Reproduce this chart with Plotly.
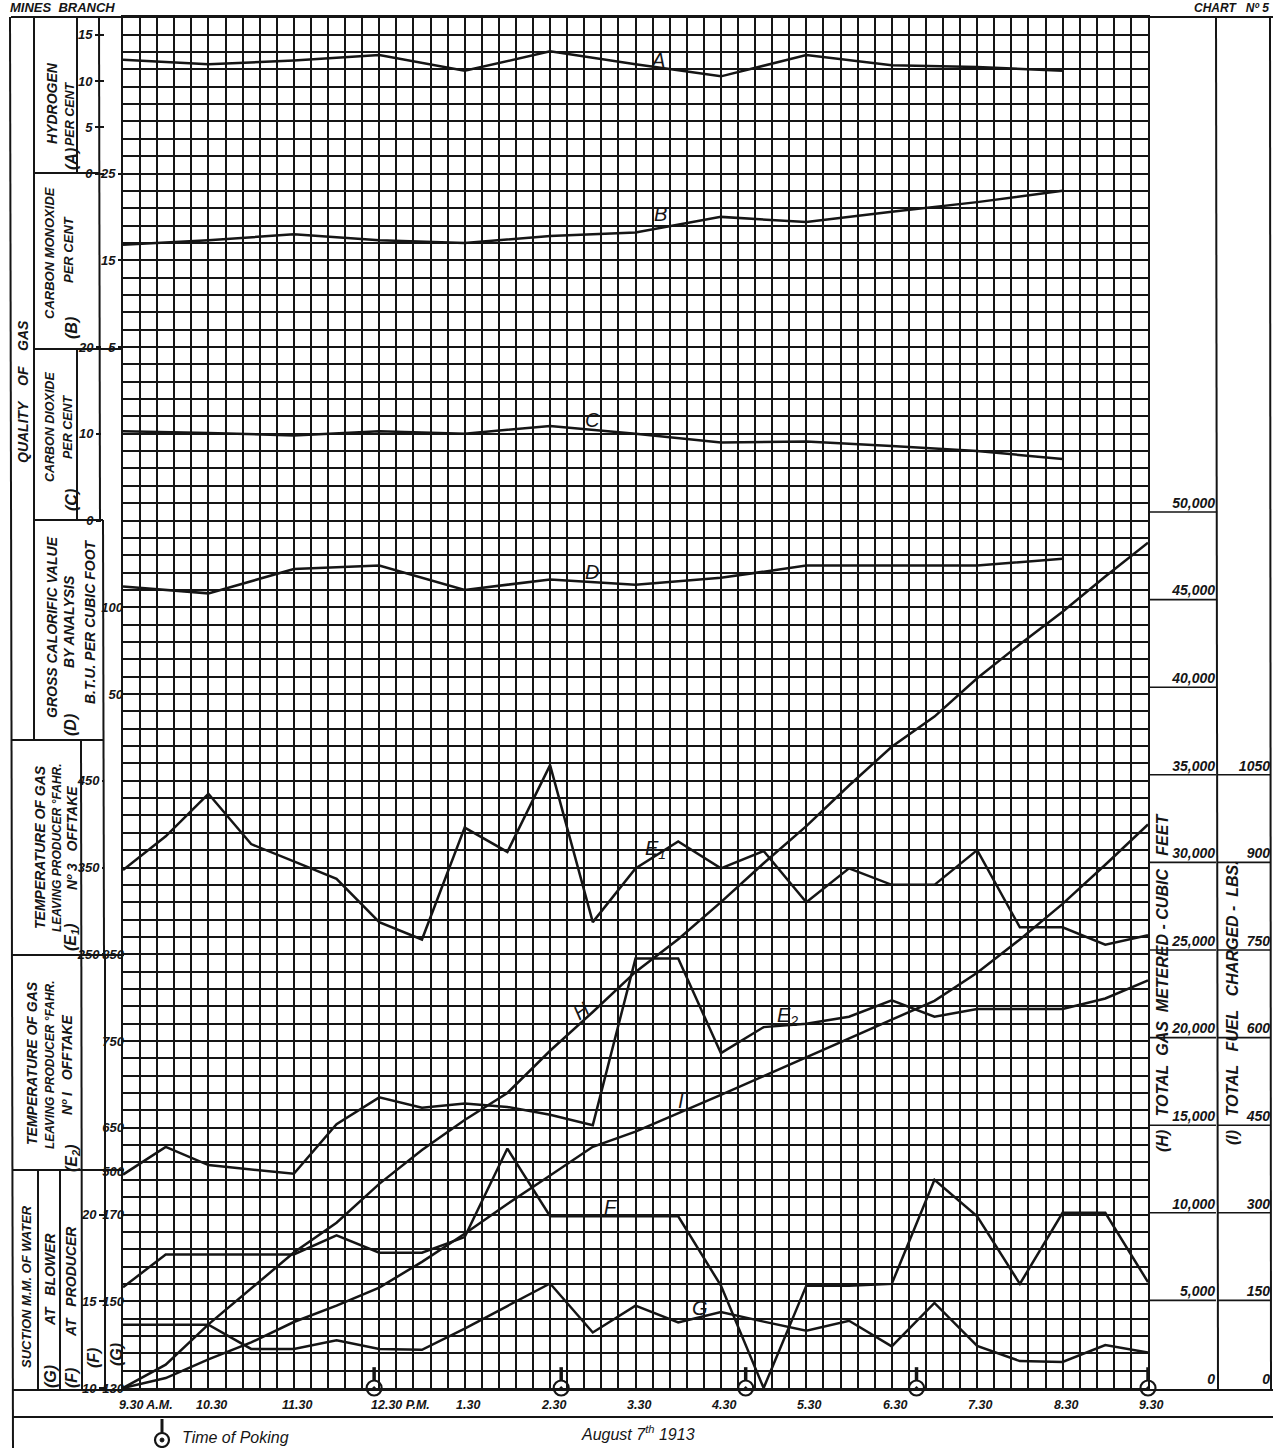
import plotly.graph_objects as go

# ------------------------------------------------------------------ data
HOURLY_TIMES = [9.5, 10.5, 11.5, 12.5, 13.5, 14.5, 15.5, 16.5, 17.5, 18.5, 19.5, 20.5]
HALF_HOURLY_TIMES = [9.5, 10.0, 10.5, 11.0, 11.5, 12.0, 12.5, 13.0, 13.5, 14.0, 14.5, 15.0,
                     15.5, 16.0, 16.5, 17.0, 17.5, 18.0, 18.5, 19.0, 19.5, 20.0, 20.5, 21.0, 21.5]

hydrogen_A = [12.3, 11.8, 12.2, 12.8, 11.1, 13.2, 11.8, 10.5, 12.8, 11.7, 11.5, 11.1]
carbon_monoxide_B = [16.8, 17.3, 18.0, 17.3, 17.0, 17.8, 18.2, 20.0, 19.4, 20.6, 21.7, 23.0]
carbon_dioxide_C = [10.3, 10.1, 9.8, 10.3, 10.0, 10.9, 10.0, 9.0, 9.1, 8.6, 8.0, 7.1]
calorific_value_D = [112, 108, 122, 124, 110, 116, 113, 117, 124, 124, 124, 128]

temp_no3_offtake_E1 = [347, 386, 435, 377, 357, 337, 287, 267, 396, 368, 468, 287, 349,
                       380, 349, 369, 310, 349, 330, 330, 370, 281, 281, 261, 272]
temp_no1_offtake_E2 = [596, 628, 607, 602, 597, 654, 685, 673, 678, 674, 665, 653, 845,
                       845, 736, 766, 770, 778, 797, 778, 787, 787, 787, 799, 820]
suction_producer_F = [15.8, 17.7, 17.7, 17.7, 17.7, 18.8, 17.8, 17.8, 18.7, 23.8, 19.9, 19.9, 19.9,
                      19.9, 15.9, 10.0, 15.9, 15.9, 16.0, 22.0, 19.9, 16.0, 20.1, 20.1, 16.1]
suction_blower_G = [144.6, 144.6, 144.6, 139.0, 139.0, 141.0, 139.0, 138.8, 143.7, 148.9, 154.1, 142.8,
                    149.0, 145.1, 147.5, 145.3, 143.2, 145.5, 139.6, 149.6, 139.7, 136.2, 136.0, 139.9, 138.2]
total_gas_H = [0, 1330, 3630, 5670, 7730, 9430, 11650, 13580, 15300, 16840, 19250, 21460, 23750,
               25610, 27730, 29950, 32070, 34390, 36600, 38320, 40510, 42450, 44310, 46320, 48250]
total_fuel_I = [0, 17, 49, 78, 113, 141, 172, 216, 264, 315, 364, 413, 439,
                470, 502, 534, 566, 598, 631, 663, 711, 768, 829, 896, 965]

POKING_TIMES = [12.44, 14.63, 16.79, 18.79, 21.5]

TIME_TICKS = [9.5, 10.5, 11.5, 12.5, 13.5, 14.5, 15.5, 16.5, 17.5, 18.5, 19.5, 20.5, 21.5]
TIME_LABELS = ["9.30 A.M.", "10.30", "11.30", "12.30 P.M.", "1.30", "2.30", "3.30",
               "4.30", "5.30", "6.30", "7.30", "8.30", "9.30"]

A_TICKS = [0, 5, 10, 15]
B_TICKS = [5, 15, 25]
C_TICKS = [0, 10, 20]
D_TICKS = [50, 100]
E1_TICKS = [250, 350, 450]
E2_TICKS = [600, 650, 750, 850]
E2_TICKTEXT = ["500", "650", "750", "850"]
F_TICKS = [10, 15, 20]
G_TICKS = [130, 150, 170]
H_TICKS = [0, 5000, 10000, 15000, 20000, 25000, 30000, 35000, 40000, 45000, 50000]
H_TICKTEXT = ["0", "5,000", "10,000", "15,000", "20,000", "25,000", "30,000",
              "35,000", "40,000", "45,000", "50,000"]
I_TICKS = [0, 150, 300, 450, 600, 750, 900, 1050]

# ------------------------------------------------------------------ geometry / style
W, HP = 1273, 1448
INK = "#151515"
FONT = "Liberation Sans, Arial, sans-serif"
ROWS = 79
GRID_L, GRID_R, GRID_T, GRID_B = 123, 1148, 17.35, 1388
NB = "\u00a0"


def px(x):
    return x / W


def py(y):
    return 1 - y / HP


def ifont(size, bold=True):
    return dict(family=FONT, size=size, color=INK, style="italic",
                weight="bold" if bold else "normal")


fig = go.Figure()


def scale_axis(v0, per_row, pos_px, tickvals, ticktext=None, ticklen=0, size=13, raise_labels=False):
    texts = ticktext if ticktext is not None else [str(v) for v in tickvals]
    if raise_labels:  # label sits above its leader line
        texts = [t + "<br>" + NB for t in texts]
    return dict(overlaying="y", anchor="free", position=pos_px / W, side="left",
                range=[v0, v0 + per_row * ROWS], showgrid=False, zeroline=False,
                showline=False, tickmode="array", tickvals=tickvals, ticktext=texts,
                ticks="outside" if ticklen > 0 else "", ticklen=ticklen, tickwidth=1.6,
                tickcolor=INK, tickfont=ifont(size),
                automargin=False, fixedrange=True)


H_PER_ROW = 50000 / 50.49
layout_axes = dict(
    yaxis2=scale_axis(-131.25, 1.875, 104, A_TICKS, ticklen=9),
    yaxis3=scale_axis(-115, 2, 123, B_TICKS, ticklen=5),
    yaxis4=scale_axis(-100, 2, 101, C_TICKS, ticklen=5),
    yaxis5=scale_axis(-350, 10, 123, D_TICKS, ticklen=0),
    yaxis6=scale_axis(-250, 20, 104, E1_TICKS, ticklen=2),
    yaxis7=scale_axis(350, 20, 124, E2_TICKS, E2_TICKTEXT, ticklen=0),
    yaxis8=scale_axis(10, 1, 104, F_TICKS, ticklen=5),
    yaxis9=scale_axis(130, 4, 124, G_TICKS, ticklen=0),
    yaxis10=scale_axis(0, H_PER_ROW, 1215, H_TICKS, H_TICKTEXT, ticklen=0, size=14, raise_labels=True),
    yaxis11=scale_axis(0, H_PER_ROW * 0.03, 1270, I_TICKS, ticklen=0, size=14, raise_labels=True),
)

series = [
    (HOURLY_TIMES, hydrogen_A, "y2"),
    (HOURLY_TIMES, carbon_monoxide_B, "y3"),
    (HOURLY_TIMES, carbon_dioxide_C, "y4"),
    (HOURLY_TIMES, calorific_value_D, "y5"),
    (HALF_HOURLY_TIMES, temp_no3_offtake_E1, "y6"),
    (HALF_HOURLY_TIMES, temp_no1_offtake_E2, "y7"),
    (HALF_HOURLY_TIMES, suction_producer_F, "y8"),
    (HALF_HOURLY_TIMES, suction_blower_G, "y9"),
    (HALF_HOURLY_TIMES, total_gas_H, "y10"),
    (HALF_HOURLY_TIMES, total_fuel_I, "y11"),
]
for xs, ys, ax in series:
    fig.add_trace(go.Scatter(x=xs, y=ys, yaxis=ax, mode="lines",
                             line=dict(color=INK, width=2.5), showlegend=False,
                             hoverinfo="skip", cliponaxis=False))

# poking stems + markers
stem_x, stem_y = [], []
for t in POKING_TIMES:
    stem_x += [t, t, None]
    stem_y += [0.42, 1.2, None]
fig.add_trace(go.Scatter(x=stem_x, y=stem_y, mode="lines", line=dict(color=INK, width=3.5),
                         showlegend=False, hoverinfo="skip", cliponaxis=False))
fig.add_trace(go.Scatter(x=POKING_TIMES, y=[0] * len(POKING_TIMES), mode="markers",
                         marker=dict(symbol="circle-open-dot", size=15, color=INK,
                                     line=dict(width=2.2, color=INK)),
                         name="Time of Poking", showlegend=False, hoverinfo="skip",
                         cliponaxis=False))

# ------------------------------------------------------------------ frame lines
FRAME = [
    (11, 17, 1273, 17), (10, 17, 13, 1448),
    (34, 17, 34, 740),
    (77, 17, 77, 173), (99, 17, 100, 520),
    (34, 173, 100, 173), (34, 349, 123, 349), (77, 349, 77, 520),
    (34, 520, 103, 520), (103, 520, 104, 955), (11, 740, 104, 740),
    (81, 740, 82, 1390), (11, 955, 124, 955), (105, 955, 105, 1390),
    (12, 1170, 124, 1170), (38, 1170, 38, 1390), (60, 1170, 60, 1390),
    (12, 1390, 1273, 1390), (12, 1417, 1273, 1417),
    (1216, 17, 1218, 1390), (1270, 17, 1271, 1390),
]
shapes = [dict(type="line", xref="paper", yref="paper", x0=px(a), y0=py(b), x1=px(c), y1=py(d),
               line=dict(color=INK, width=2)) for a, b, c, d in FRAME]
# right-hand tick leaders
for v in H_TICKS[1:]:
    shapes.append(dict(type="line", xref="paper", yref="y10", x0=px(GRID_R), x1=px(1216),
                       y0=v, y1=v, line=dict(color=INK, width=1.6)))
for v in I_TICKS[1:]:
    shapes.append(dict(type="line", xref="paper", yref="y11", x0=px(1217), x1=px(1270),
                       y0=v, y1=v, line=dict(color=INK, width=1.6)))

# key for "Time of Poking": stem, ring and centre dot
KEY_X, KEY_Y, KEY_R = 162, 1440, 7
shapes += [
    dict(type="line", xref="paper", yref="paper", x0=px(KEY_X), x1=px(KEY_X),
         y0=py(KEY_Y - KEY_R - 14), y1=py(KEY_Y - KEY_R), line=dict(color=INK, width=3)),
    dict(type="circle", xref="paper", yref="paper", x0=px(KEY_X - KEY_R), x1=px(KEY_X + KEY_R),
         y0=py(KEY_Y + KEY_R), y1=py(KEY_Y - KEY_R), line=dict(color=INK, width=2.2),
         fillcolor="white"),
    dict(type="circle", xref="paper", yref="paper", x0=px(KEY_X - 2), x1=px(KEY_X + 2),
         y0=py(KEY_Y + 2), y1=py(KEY_Y - 2), line=dict(color=INK, width=1), fillcolor=INK),
]

# ------------------------------------------------------------------ texts
S2, S3 = NB * 2, NB * 3
ROT_LABELS = [
    (f"QUALITY{NB*4}OF{NB*4}GAS", 23, 392, 14),
    ("HYDROGEN", 52, 103, 14),
    ("PER CENT", 70, 114, 12.5),
    ("(A)", 71, 159, 16),
    ("CARBON MONOXIDE", 50, 253, 13),
    ("PER CENT", 69, 250, 13),
    ("(B)", 72, 328, 16),
    ("CARBON DIOXIDE", 50, 427, 12.5),
    ("PER CENT", 68, 427, 12.5),
    ("(C)", 72, 500, 16),
    ("GROSS CALORIFIC VALUE", 52, 627, 14),
    ("BY ANALYSIS", 69, 622, 14),
    ("(D)", 70, 725, 16),
    ("B.T.U. PER CUBIC FOOT", 90, 622, 14),
    ("TEMPERATURE OF GAS", 40, 847, 14),
    ("LEAVING PRODUCER °FAHR.", 57, 848, 12),
    (f"Nº 3{S3}OFFTAKE", 72, 838, 14),
    ("(E<sub>1</sub>)", 71, 937, 16),
    ("TEMPERATURE OF GAS", 32, 1063, 14),
    ("LEAVING PRODUCER °FAHR.", 50, 1065, 12),
    (f"Nº I{S3}OFFTAKE", 67, 1065, 14),
    ("(E<sub>2</sub>)", 72, 1158, 16),
    ("SUCTION M.M. OF WATER", 26, 1287, 13),
    (f"AT{S3}BLOWER", 50, 1280, 14),
    ("(G)", 50, 1377, 16),
    (f"AT{S3}PRODUCER", 71, 1282, 14),
    ("(F)", 71, 1378, 16),
    ("(F)", 93, 1358, 16),
    ("(G)", 116, 1355, 16),
    (f"(H){S3}TOTAL{S2}GAS{S2}METERED{NB}-{NB}CUBIC{S3}FEET", 1162, 983, 16),
    (f"(I){S3}TOTAL{S3}FUEL{S3}CHARGED{NB}-{S2}LBS.", 1232, 1003, 16),
]
annotations = []
for text, cx, cy, size in ROT_LABELS:
    annotations.append(dict(text=text, x=px(cx), y=py(cy), xref="paper", yref="paper",
                            textangle=-90, showarrow=False, xanchor="center", yanchor="middle",
                            font=ifont(size)))

# time labels under the grid
for t, lab in zip(TIME_TICKS, TIME_LABELS):
    if lab.endswith("A.M."):
        anc, sh = "left", -6
    elif lab.endswith("P.M."):
        anc, sh = "left", -10
    else:
        anc, sh = "center", 3
    annotations.append(dict(text=lab, x=t, xref="x", y=py(1405), yref="paper",
                            showarrow=False, xanchor=anc, xshift=sh, yanchor="middle",
                            font=ifont(12.5)))

# series letters
SERIES_TAGS = [("A", 658, 60, 0), ("B", 660, 214, 0), ("C", 592, 420, 0), ("D", 592, 572, 0),
               ("E<sub>1</sub>", 656, 849, 0), ("E<sub>2</sub>", 787, 1016, 0),
               ("F", 611, 1207, 0), ("G", 700, 1308, 0), ("H", 581, 1011, -35), ("I", 681, 1101, 0)]
for text, cx, cy, ang in SERIES_TAGS:
    annotations.append(dict(text=text, x=px(cx), y=py(cy), xref="paper", yref="paper",
                            showarrow=False, textangle=ang, xanchor="center", yanchor="middle",
                            font=ifont(20, bold=False)))

annotations += [
    dict(text=f"MINES{S2}BRANCH", x=px(8), y=py(8), xref="paper", yref="paper",
         showarrow=False, xanchor="left", yanchor="middle", font=ifont(13)),
    dict(text=f"CHART{S3}Nº 5", x=px(1271), y=py(8), xref="paper", yref="paper",
         showarrow=False, xanchor="right", yanchor="middle", font=ifont(12)),
    dict(text="Time of Poking", x=px(180), y=py(1437), xref="paper", yref="paper",
         showarrow=False, xanchor="left", yanchor="middle", font=ifont(16, bold=False)),
    dict(text="August 7<sup>th</sup> 1913", x=px(638), y=py(1433), xref="paper", yref="paper",
         showarrow=False, xanchor="center", yanchor="middle", font=ifont(16, bold=False)),
]

grid_common = dict(showgrid=True, gridcolor=INK, gridwidth=1.5, showticklabels=False,
                   ticks="", zeroline=False, showline=True, mirror=True, linecolor=INK,
                   linewidth=2, automargin=False, fixedrange=True)

fig.update_layout(
    width=W, height=HP, margin=dict(l=0, r=0, t=0, b=0, pad=0),
    paper_bgcolor="white", plot_bgcolor="white",
    xaxis=dict(domain=[px(GRID_L), px(GRID_R)], range=[9.5, 21.5], tickmode="linear",
               tick0=9.5, dtick=0.2, **grid_common),
    yaxis=dict(domain=[py(GRID_B), py(GRID_T)], range=[0, ROWS], tickmode="linear",
               tick0=0, dtick=1, **grid_common),
    showlegend=False,
    shapes=shapes, annotations=annotations,
    **layout_axes,
)

fig.write_html("out.html", config={"displayModeBar": False},
               post_script="document.body.style.margin='0';document.body.style.overflow='hidden';")
